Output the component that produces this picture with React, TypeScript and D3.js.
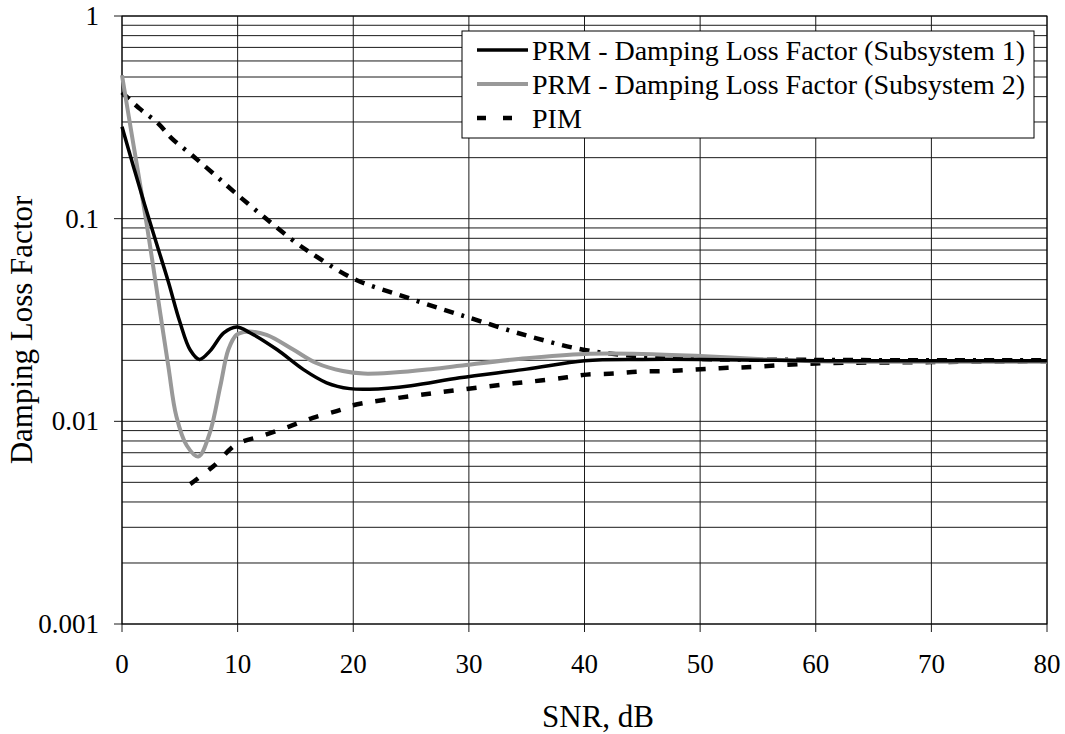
import React from "react";
import * as d3 from "d3";

const xTicks = [0, 10, 20, 30, 40, 50, 60, 70, 80];
const yMajor = [1, 0.1, 0.01, 0.001];
const yMajorLabels = ["1", "0.1", "0.01", "0.001"];

const snr1 = [0, 1, 2, 3, 4, 5, 5.9, 6.7, 7.6, 8.8, 9.9, 11.1, 13.4, 15.7, 17.7, 19.7, 21.4, 25, 29.2, 35, 40, 45, 50, 60, 70, 80];
const dlf1 = [0.284, 0.18, 0.115, 0.075, 0.049, 0.031, 0.0225, 0.0202, 0.0222, 0.0273, 0.0292, 0.0273, 0.0226, 0.018, 0.0155, 0.0145, 0.0144, 0.015, 0.0164, 0.0181, 0.0199, 0.0202, 0.0202, 0.0199, 0.0199, 0.0199];

const snr2 = [0, 1, 2, 2.7, 4, 4.7, 5.6, 6.6, 7.6, 8.5, 9.2, 9.9, 10.8, 12.5, 14.8, 16.8, 19.1, 20.9, 23.5, 26.4, 29.2, 35, 40, 45, 50, 55, 60, 70, 80];
const dlf2 = [0.51, 0.23, 0.105, 0.058, 0.0188, 0.0106, 0.0076, 0.0067, 0.0088, 0.0149, 0.0226, 0.0267, 0.0277, 0.0267, 0.0226, 0.0194, 0.0177, 0.0172, 0.0174, 0.018, 0.0188, 0.0205, 0.0215, 0.0215, 0.021, 0.0203, 0.0198, 0.0197, 0.0197];

const snrPimUpper = [0, 1.5, 3.1, 4.3, 6, 8, 10, 12.5, 15.1, 16.3, 20, 24, 27.8, 30, 35, 40, 45, 50, 60, 70, 80];
const dlfPimUpper = [0.42, 0.35, 0.296, 0.249, 0.207, 0.165, 0.131, 0.0995, 0.0757, 0.068, 0.0506, 0.042, 0.0356, 0.0325, 0.0265, 0.0225, 0.0209, 0.0203, 0.0201, 0.02, 0.02];

const snrPimLower = [5.9, 7.9, 9.9, 12.2, 14.4, 16.5, 18.9, 20, 24.9, 29.2, 33.9, 36.2, 38.5, 40.2, 42.5, 44.8, 47.1, 49.5, 51.7, 54, 60, 70, 80];
const dlfPimLower = [0.0049, 0.006, 0.0077, 0.0085, 0.0094, 0.0104, 0.0114, 0.012, 0.0133, 0.0143, 0.0154, 0.0159, 0.0165, 0.017, 0.0172, 0.0176, 0.0177, 0.018, 0.0183, 0.0185, 0.0193, 0.0196, 0.0198];

const legendLabels = [
  "PRM - Damping Loss Factor (Subsystem 1)",
  "PRM - Damping Loss Factor (Subsystem 2)",
  "PIM",
];

const W = 1065;
const H = 734;
const left = 122;
const right = 1047;
const top = 16;
const bottom = 624;
const FONT = "'Liberation Serif', 'Times New Roman', Times, serif";
const txt: React.CSSProperties = { fontFamily: FONT };

export default function App() {
  const x = d3.scaleLinear().domain([0, 80]).range([left, right]);
  const y = d3.scaleLog().domain([0.001, 1]).range([bottom, top]);

  const minorVals: number[] = [];
  [0.001, 0.01, 0.1].forEach((d) => {
    for (let k = 2; k <= 9; k++) minorVals.push(d * k);
  });

  const line = d3
    .line<[number, number]>()
    .x((d) => x(d[0]))
    .y((d) => y(d[1]))
    .curve(d3.curveCatmullRom.alpha(0.5));

  const zip = (a: number[], b: number[]) => a.map((v, i) => [v, b[i]] as [number, number]);

  const p1 = line(zip(snr1, dlf1)) || "";
  const p2 = line(zip(snr2, dlf2)) || "";
  const pu = line(zip(snrPimUpper, dlfPimUpper)) || "";
  const pl = line(zip(snrPimLower, dlfPimLower)) || "";

  const gridColor = "#1a1a1a";
  const lx = 462;
  const ly = 31;
  const lw = 572;
  const lh = 107;
  const rowY = [50, 84, 118];

  return (
    <svg width={W} height={H} style={{ position: "absolute", left: 0, top: 0, background: "#fff" }}>
      <rect x={0} y={0} width={W} height={H} fill="#fff" />
      {minorVals.map((v, i) => (
        <line key={"mn" + i} x1={left} x2={right} y1={y(v)} y2={y(v)} stroke={gridColor} strokeWidth={1} />
      ))}
      {yMajor.map((v, i) => (
        <line key={"mj" + i} x1={left - 8} x2={right} y1={y(v)} y2={y(v)} stroke={gridColor} strokeWidth={1} />
      ))}
      {xTicks.map((v, i) => (
        <line key={"vx" + i} x1={x(v)} x2={x(v)} y1={top} y2={bottom + 8} stroke={gridColor} strokeWidth={1} />
      ))}
      <rect x={left} y={top} width={right - left} height={bottom - top} fill="none" stroke="#000" strokeWidth={1} />

      {yMajor.map((v, i) => (
        <text key={"yl" + i} x={99} y={y(v) + 9} textAnchor="end" fontSize={27} fill="#000" style={txt}>
          {yMajorLabels[i]}
        </text>
      ))}
      {xTicks.map((v, i) => (
        <text key={"xl" + i} x={x(v)} y={673} textAnchor="middle" fontSize={27} fill="#000" style={txt}>
          {v}
        </text>
      ))}

      <path d={pu} fill="none" stroke="#000" strokeWidth={4.5} strokeDasharray="10 8 10 8 3 8" />
      <path d={pl} fill="none" stroke="#000" strokeWidth={4.5} strokeDasharray="10 13" />
      <path d={p2} fill="none" stroke="#999999" strokeWidth={4} />
      <path d={p1} fill="none" stroke="#000" strokeWidth={3.5} />

      <rect x={lx} y={ly} width={lw} height={lh} fill="#fff" stroke="#000" strokeWidth={1} />
      <line x1={477} x2={528} y1={rowY[0]} y2={rowY[0]} stroke="#000" strokeWidth={3.5} />
      <line x1={477} x2={528} y1={rowY[1]} y2={rowY[1]} stroke="#999999" strokeWidth={4} />
      <line x1={477} x2={528} y1={rowY[2]} y2={rowY[2]} stroke="#000" strokeWidth={4.5} strokeDasharray="9 17" />
      {legendLabels.map((t, i) => (
        <text key={"lg" + i} x={532} y={rowY[i] + 9.5} fontSize={28} fill="#000" style={txt}>
          {t}
        </text>
      ))}

      <text x={598} y={727} textAnchor="middle" fontSize={31} fill="#000" style={txt}>
        SNR, dB
      </text>
      <text transform="translate(32, 330) rotate(-90)" textAnchor="middle" fontSize={31} fill="#000" style={txt}>
        Damping Loss Factor
      </text>
    </svg>
  );
}
